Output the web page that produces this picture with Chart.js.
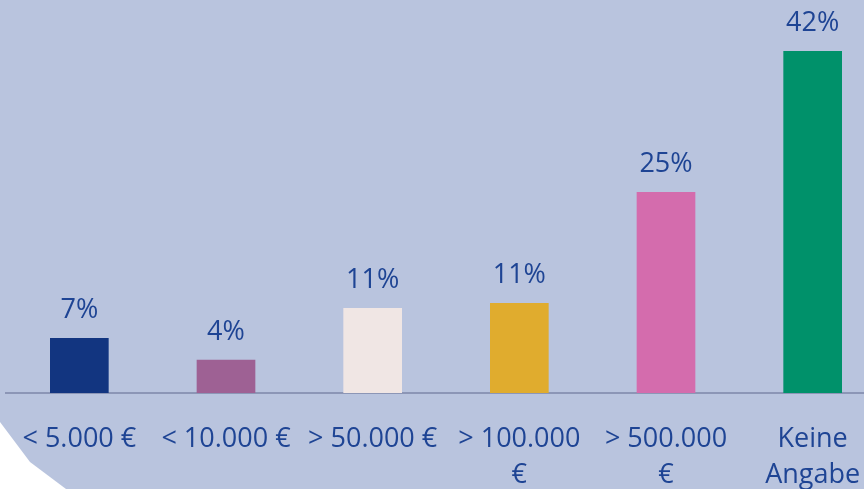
<!DOCTYPE html>
<html>
<head>
<meta charset="utf-8">
<script src="https://cdn.jsdelivr.net/npm/chart.js@4"></script>
<style>
	html, body { margin: 0; padding: 0; background: #ffffff; overflow: hidden; }
	#bg {
		position: absolute; left: 0; top: 0; width: 864px; height: 489px;
		background: #b9c4de;
		clip-path: polygon(0 0, 100% 0, 100% 100%, 66px 100%, 30px 462px, 0 422px);
	}
	#wrap { position: absolute; left: 0; top: 0; width: 890px; height: 489px; }
</style>
</head>
<body>
<div id="bg"></div>
<div id="wrap"><canvas id="cntx_income"></canvas></div>
<script>
const categories = [
	"< 5.000 €",
	"< 10.000 €",
	"> 50.000 €",
	["> 100.000", "€"],
	["> 500.000", "€"],
	["Keine", "Angabe"],
];
const shares = [6.8, 4.1, 10.5, 11.1, 24.8, 42.2];
const bar_colors = ["#123580", "#9e6194", "#f0e6e4", "#e0ac2e", "#d46cad", "#00916a"];

const text_color = "#1e4494";
const font_family = "'Open Sans', 'Noto Sans', sans-serif";

// draws the % value above each bar
const valueLabels = {
	id: "valueLabels",
	afterDatasetsDraw: (chart) => {
		const ctx = chart.ctx;
		const meta = chart.getDatasetMeta(0);
		ctx.save();
		ctx.fillStyle = text_color;
		ctx.font = "27px " + font_family;
		ctx.textAlign = "center";
		ctx.textBaseline = "alphabetic";
		meta.data.forEach((bar, i) => {
			ctx.fillText(Math.round(shares[i]) + "%", bar.x, bar.y - 20);
		});
		ctx.restore();
	},
};

const myChart = new Chart(document.querySelector("#cntx_income"), {
	type: "bar",
	data: {
		labels: categories,
		datasets: [
			{
				label: "Anteil",
				data: shares,
				backgroundColor: bar_colors,
				borderWidth: 0,
				barPercentage: 0.4,
				categoryPercentage: 1,
			},
		],
	},
	options: {
		responsive: true,
		maintainAspectRatio: false,
		animation: false,
		layout: { padding: { left: 6, right: 4, top: 4, bottom: 0 } },
		plugins: {
			legend: { display: false },
			tooltip: { enabled: false },
		},
		scales: {
			y: { display: false, min: 0, max: 48 },
			x: {
				grid: { display: false },
				border: { display: true, color: "#8c96b6", width: 2 },
				ticks: {
					color: text_color,
					font: { family: font_family, size: 27, lineHeight: 1.34 },
					padding: 20,
					autoSkip: false,
					maxRotation: 0,
					minRotation: 0,
				},
				afterFit: (scale) => {
					scale.height = 96;
				},
			},
		},
	},
	plugins: [valueLabels],
});
</script>
</body>
</html>
